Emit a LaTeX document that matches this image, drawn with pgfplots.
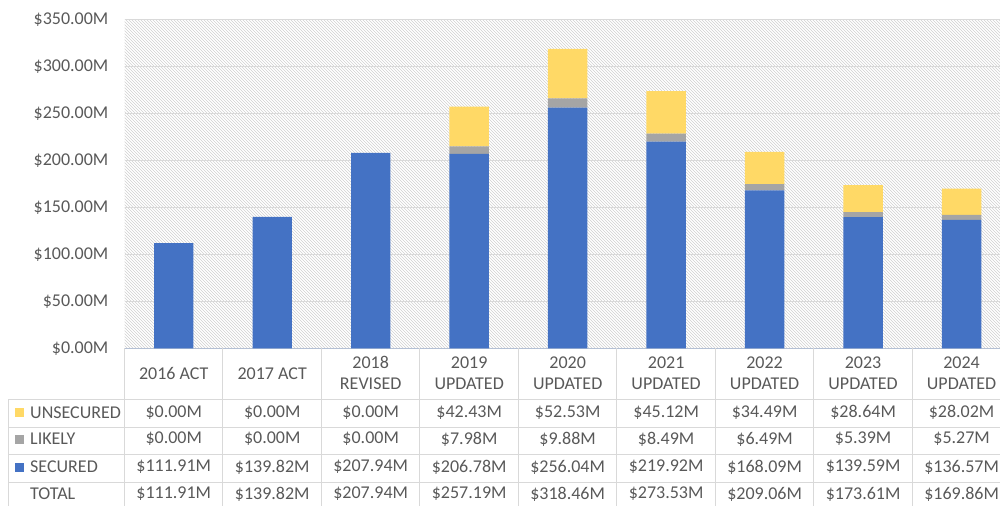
\documentclass[border=0pt]{standalone}
\usepackage{pgfplots}
\pgfplotsset{compat=1.18}
\usepackage{fontspec}
\setmainfont{Carlito}
\usetikzlibrary{patterns}
\definecolor{sec}{HTML}{4472C4}
\definecolor{lik}{HTML}{A5A5A5}
\definecolor{uns}{HTML}{FFD966}
\definecolor{txt}{HTML}{595959}
\definecolor{grd}{HTML}{D9D9D9}
\definecolor{axl}{HTML}{B4C0D4}
\definecolor{pat}{HTML}{D0D0D0}
\begin{document}
\begin{tikzpicture}[x=1pt,y=1pt,font=\fontsize{18}{21}\selectfont]
\useasboundingbox (0,0) rectangle (1000,506);
\clip (0,0) rectangle (1000,506);
\fill[pattern=north west lines, pattern color=pat] (124.5,157.7) rectangle (1010.8,486.7);
\begin{axis}[
  at={(124.5pt,157.7pt)}, anchor=south west,
  scale only axis, width=886.3pt, height=329pt,
  xmin=-0.5, xmax=8.5, ymin=0, ymax=350,
  ybar stacked, bar width=0.4,
  axis x line*=bottom, axis y line*=left,
  x axis line style={draw=axl, line width=1pt, -},
  y axis line style={draw=none},
  major tick length=0pt,
  ymajorgrids, grid style={draw=grd, line width=1pt},
  ytick={0,50,...,350},
  yticklabels={\$0.00M,\$50.00M,\$100.00M,\$150.00M,\$200.00M,\$250.00M,\$300.00M,\$350.00M},
  yticklabel style={anchor=east, inner sep=0pt, xshift=-16pt, text=txt, font=\fontsize{18}{21}\selectfont},
  xtick={0,...,8},
  xticklabels={2016 ACT,2017 ACT,{2018\\REVISED},{2019\\UPDATED},{2020\\UPDATED},{2021\\UPDATED},{2022\\UPDATED},{2023\\UPDATED},{2024\\UPDATED}},
  xticklabel style={anchor=center, yshift=-25pt, align=center, text=txt, inner sep=0pt, font=\fontsize{18}{21}\selectfont},
  clip=false,
]
\addplot[fill=sec, draw=none] coordinates {(0,111.91) (1,139.82) (2,207.94) (3,206.78) (4,256.04) (5,219.92) (6,168.09) (7,139.59) (8,136.57)};
\addplot[fill=lik, draw=none] coordinates {(0,0) (1,0) (2,0) (3,7.98) (4,9.88) (5,8.49) (6,6.49) (7,5.39) (8,5.27)};
\addplot[fill=uns, draw=none] coordinates {(0,0) (1,0) (2,0) (3,42.43) (4,52.53) (5,45.12) (6,34.49) (7,28.64) (8,28.02)};
\end{axis}
% table grid
\foreach \k in {0,...,9} \draw[grd, line width=1pt] ({124.5+98.48*\k},157.7) -- ({124.5+98.48*\k},0);
\draw[grd, line width=1pt] (8.3,106.7) -- (8.3,0);
\foreach \yy in {106.7,78.7,51.5,24} \draw[grd, line width=1pt] (8.3,\yy) -- (1010,\yy);
% legend column
\fill[uns] (15,89.2) rectangle (24,98.2);
\fill[lik] (15,62.5) rectangle (24,71.5);
\fill[sec] (15,34.5) rectangle (24,43.5);
\node[anchor=west, inner sep=0pt, text=txt] at (30,93.7) {UNSECURED};
\node[anchor=west, inner sep=0pt, text=txt] at (30,67) {LIKELY};
\node[anchor=west, inner sep=0pt, text=txt] at (30,39) {SECURED};
\node[anchor=west, inner sep=0pt, text=txt] at (30,12) {TOTAL};
% values
\foreach \v [count=\i from 0] in {\$0.00M,\$0.00M,\$0.00M,\$42.43M,\$52.53M,\$45.12M,\$34.49M,\$28.64M,\$28.02M}
  \node[text=txt, inner sep=0pt] at ({124.5+98.48*(\i+0.5)},93.7) {\v};
\foreach \v [count=\i from 0] in {\$0.00M,\$0.00M,\$0.00M,\$7.98M,\$9.88M,\$8.49M,\$6.49M,\$5.39M,\$5.27M}
  \node[text=txt, inner sep=0pt] at ({124.5+98.48*(\i+0.5)},67) {\v};
\foreach \v [count=\i from 0] in {\$111.91M,\$139.82M,\$207.94M,\$206.78M,\$256.04M,\$219.92M,\$168.09M,\$139.59M,\$136.57M}
  \node[text=txt, inner sep=0pt] at ({124.5+98.48*(\i+0.5)},39) {\v};
\foreach \v [count=\i from 0] in {\$111.91M,\$139.82M,\$207.94M,\$257.19M,\$318.46M,\$273.53M,\$209.06M,\$173.61M,\$169.86M}
  \node[text=txt, inner sep=0pt] at ({124.5+98.48*(\i+0.5)},12) {\v};
\end{tikzpicture}
\end{document}
